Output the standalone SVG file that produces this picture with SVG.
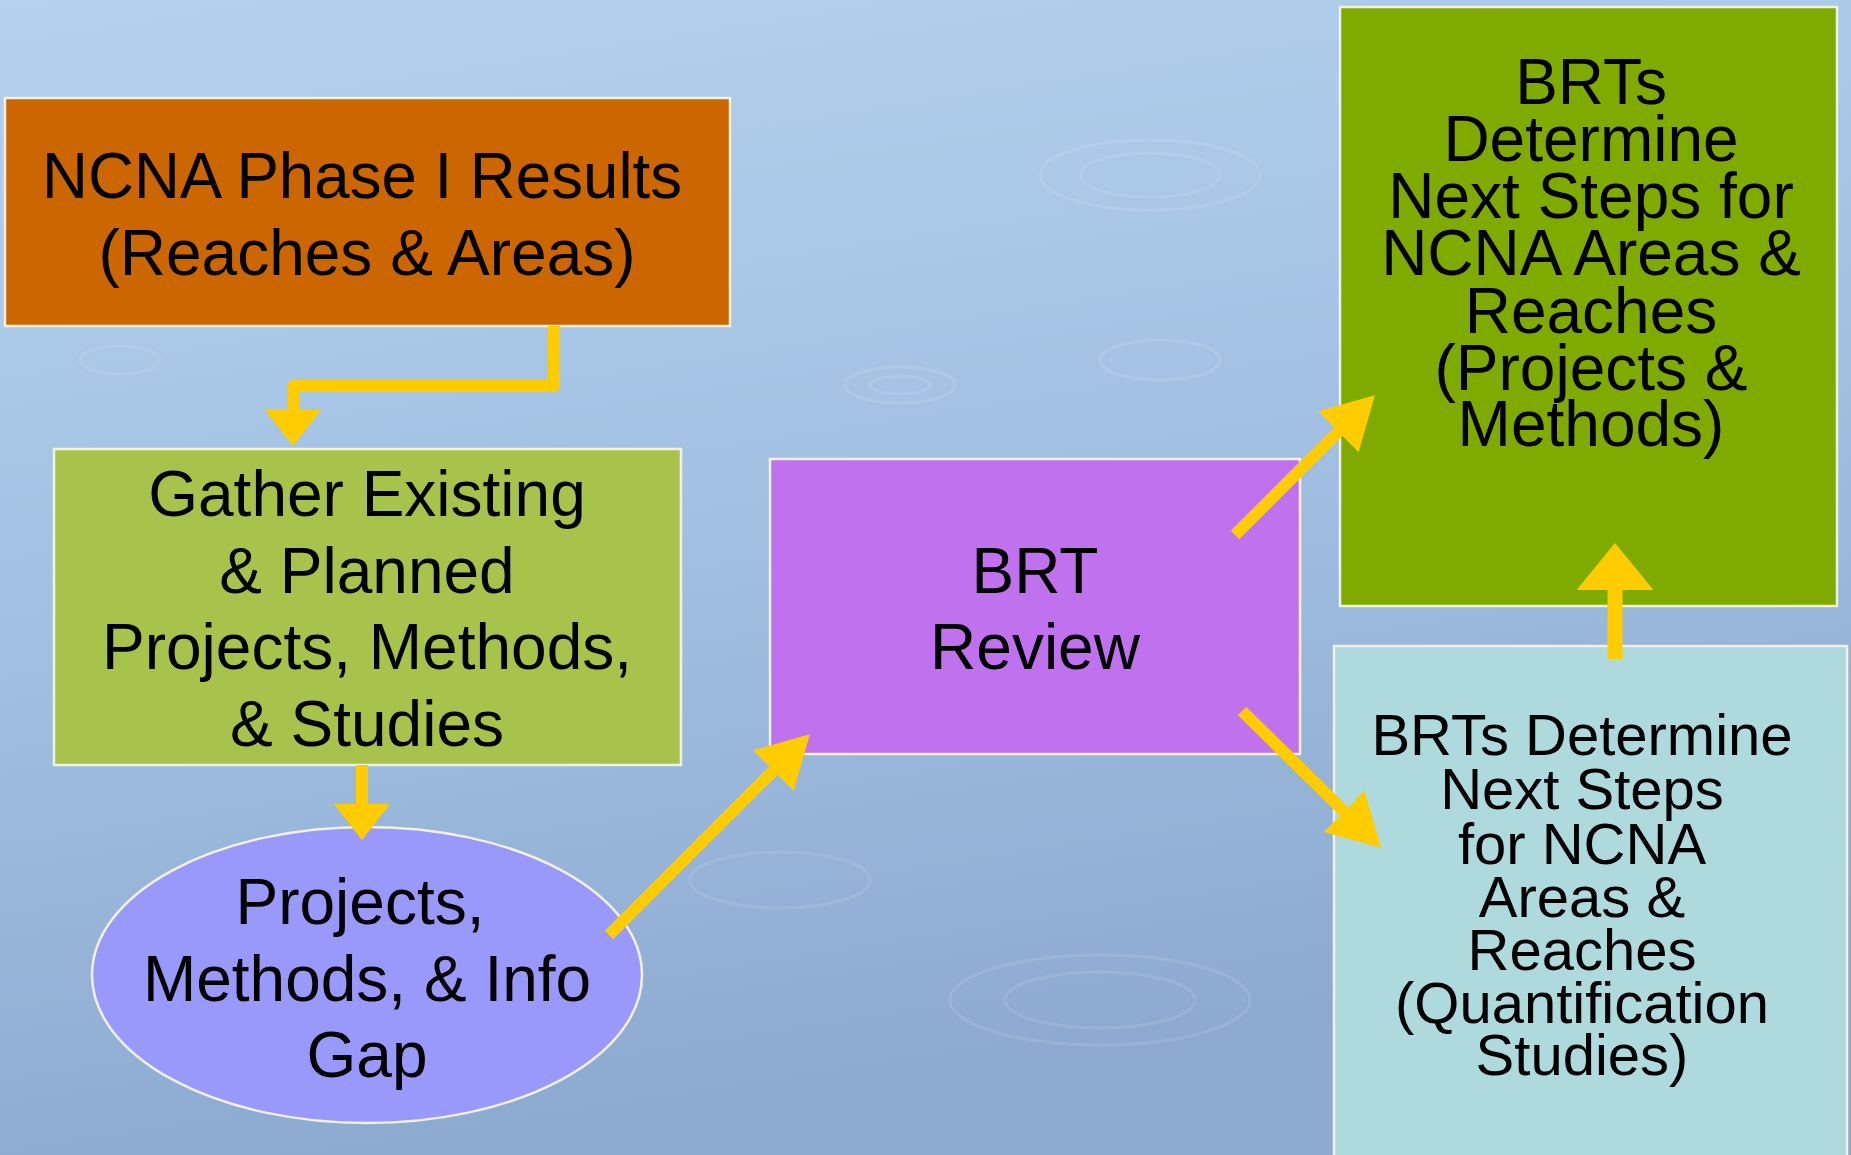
<svg xmlns="http://www.w3.org/2000/svg" width="1851" height="1155" viewBox="0 0 1851 1155">
<style>
.box{stroke:#F2F0DE;stroke-width:2.5}
.t{font-family:"Liberation Sans",Arial,sans-serif;fill:#000;text-anchor:middle}
.t64{font-size:64px}
.t57{font-size:58px}
.arr{fill:none;stroke:#FFCC00;stroke-width:12;stroke-linejoin:round}
.ripple{fill:none;stroke:#ffffff;stroke-opacity:0.1;stroke-width:3}
</style>
<defs>
<linearGradient id="bg" x1="0" y1="0" x2="0.25" y2="1">
<stop offset="0" stop-color="#B4D2EE"/>
<stop offset="0.45" stop-color="#A4C3E4"/>
<stop offset="1" stop-color="#8CAAD0"/>
</linearGradient>
<marker id="hs" markerUnits="userSpaceOnUse" markerWidth="36" markerHeight="56" refX="12" refY="28" orient="auto">
<path d="M0,0 L36,28 L0,56 z" fill="#FFCC00"/>
</marker>
<marker id="hd" markerUnits="userSpaceOnUse" markerWidth="52" markerHeight="58" refX="14" refY="29" orient="auto">
<path d="M0,0 L52,29 L0,58 z" fill="#FFCC00"/>
</marker>
<marker id="hl" markerUnits="userSpaceOnUse" markerWidth="47" markerHeight="77" refX="14" refY="38.5" orient="auto">
<path d="M0,0 L47,38.5 L0,77 z" fill="#FFCC00"/>
</marker>
</defs>
<rect x="0" y="0" width="1851" height="1155" fill="url(#bg)"/>
<g id="background-ripples">
<ellipse class="ripple" cx="900" cy="385" rx="55" ry="18"/>
<ellipse class="ripple" cx="900" cy="385" rx="30" ry="9"/>
<ellipse class="ripple" cx="1150" cy="175" rx="110" ry="35"/>
<ellipse class="ripple" cx="1150" cy="175" rx="70" ry="22"/>
<ellipse class="ripple" cx="120" cy="360" rx="40" ry="14"/>
<ellipse class="ripple" cx="1100" cy="1000" rx="150" ry="45"/>
<ellipse class="ripple" cx="1100" cy="1000" rx="95" ry="28"/>
<ellipse class="ripple" cx="780" cy="880" rx="90" ry="28"/>
<ellipse class="ripple" cx="1160" cy="360" rx="60" ry="20"/>
</g>

<g id="node-ncna-phase1">
<rect class="box" x="5" y="98" width="725" height="228" fill="#CC6600"/>
<text class="t t64" x="362" y="198" textLength="640" lengthAdjust="spacingAndGlyphs">NCNA Phase I Results</text>
<text class="t t64" x="367" y="275">(Reaches &amp; Areas)</text>
</g>

<g id="node-gather">
<rect class="box" x="54" y="449" width="627" height="316" fill="#A8C34C"/>
<text class="t t64" x="367" y="516">Gather Existing</text>
<text class="t t64" x="367" y="593">&amp; Planned</text>
<text class="t t64" x="367" y="669">Projects, Methods,</text>
<text class="t t64" x="367" y="746">&amp; Studies</text>
</g>

<g id="node-gap">
<ellipse class="box" cx="367" cy="975" rx="275" ry="148" fill="#9999FC"/>
<text class="t t64" x="360" y="924">Projects,</text>
<text class="t t64" x="367" y="1001">Methods, &amp; Info</text>
<text class="t t64" x="367" y="1077">Gap</text>
</g>

<g id="node-brt-review">
<rect class="box" x="770" y="459" width="530" height="295" fill="#BF71EE"/>
<text class="t t64" x="1035" y="593">BRT</text>
<text class="t t64" x="1035" y="669">Review</text>
</g>

<g id="node-projects-methods">
<rect class="box" x="1340" y="7" width="497" height="599" fill="#7FAB00"/>
<text class="t t64" x="1591" y="104">BRTs</text>
<text class="t t64" x="1591" y="161">Determine</text>
<text class="t t64" x="1591" y="218">Next Steps for</text>
<text class="t t64" x="1591" y="275">NCNA Areas &amp;</text>
<text class="t t64" x="1591" y="333">Reaches</text>
<text class="t t64" x="1591" y="390">(Projects &amp;</text>
<text class="t t64" x="1591" y="446">Methods)</text>
</g>

<g id="node-quantification">
<rect class="box" x="1334" y="646" width="513" height="515" fill="#AED9DD"/>
<text class="t t57" x="1582" y="755">BRTs Determine</text>
<text class="t t57" x="1582" y="809">Next Steps</text>
<text class="t t57" x="1582" y="864">for NCNA</text>
<text class="t t57" x="1582" y="917">Areas &amp;</text>
<text class="t t57" x="1582" y="970">Reaches</text>
<text class="t t57" x="1582" y="1023">(Quantification</text>
<text class="t t57" x="1582" y="1075">Studies)</text>
</g>

<g id="connectors">
<path class="arr" d="M554,326 L554,386 L293,386 L293,422" marker-end="url(#hs)"/>
<path class="arr" d="M362,765 L362,816" marker-end="url(#hs)"/>
<path class="arr" d="M609,935 L783,761" marker-end="url(#hd)"/>
<path class="arr" d="M1235,535 L1348,422" marker-end="url(#hd)"/>
<path class="arr" d="M1242,711 L1354,821" marker-end="url(#hd)"/>
<path class="arr" style="stroke-width:15" d="M1615,659 L1615,576" marker-end="url(#hl)"/>
</g>
</svg>
